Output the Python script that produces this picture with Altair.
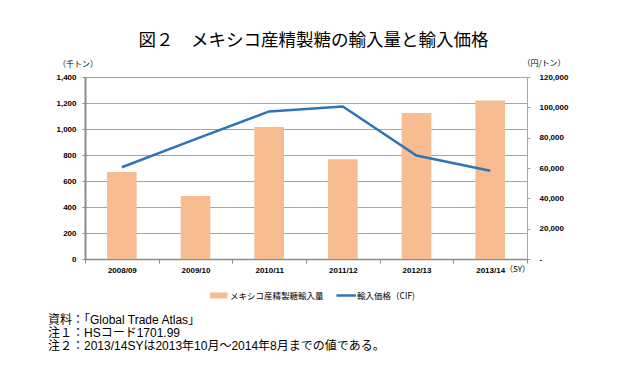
import altair as alt
import pandas as pd

years = ["2008/09", "2009/10", "2010/11", "2011/12", "2012/13", "2013/14"]
volume = [670, 484, 1015, 768, 1124, 1219]          # 千トン
price = [60500, 79000, 97300, 100600, 68200, 58200]  # 円/トン

title_text = "図２　メキシコ産精製糖の輸入量と輸入価格"
left_unit = "（千トン）"
right_unit = "（円/トン）"
x_unit = "（SY）"
legend_bar = "メキシコ産精製糖輸入量"
legend_line = "輸入価格（CIF)"
notes = [
    "資料：「Global Trade Atlas」",
    "注１：HSコード1701.99",
    "注２：2013/14SYは2013年10月～2014年8月までの値である。",
]

df = pd.DataFrame({"year": years, "volume": volume, "price": price})

JP = "Noto Sans CJK JP"
MIX = "Liberation Sans, Noto Sans CJK JP"
NUM = "Liberation Sans"
BAR = "#F7BC91"
LINE = "#2E75B6"
AXC = "#8C8C8C"

x = alt.X(
    "year:N", sort=years, title=None,
    scale=alt.Scale(paddingInner=0, paddingOuter=0),
    axis=alt.Axis(labelAngle=0, labelFont=NUM, labelFontSize=8, labelFontWeight="bold",
                  labelColor="#000", domainColor=AXC, domainWidth=1.5, tickColor=AXC,
                  tickSize=4, tickBand="extent", labelPadding=3, grid=False),
)

bars = alt.Chart(df).mark_bar(color=BAR, width=alt.RelativeBandSize(0.403)).encode(
    x=x,
    y=alt.Y("volume:Q", title=None, scale=alt.Scale(domain=[0, 1400], nice=False),
            axis=alt.Axis(values=list(range(0, 1401, 200)),
                          labelExpr="format(datum.value, ',d')", grid=True,
                          gridColor="#A6A6A6", gridWidth=1, labelFont=NUM, labelFontSize=8,
                          labelFontWeight="bold", labelColor="#000", domainColor=AXC,
                          domainWidth=2, tickColor=AXC, tickSize=3, labelPadding=6)),
)

line = alt.Chart(df).mark_line(color=LINE, strokeWidth=2.5).encode(
    x=x,
    y=alt.Y("price:Q", title=None, scale=alt.Scale(domain=[0, 120000], nice=False),
            axis=alt.Axis(orient="right", values=list(range(0, 120001, 20000)),
                          labelExpr="datum.value == 0 ? '-' : format(datum.value, ',d')",
                          grid=False, labelFont=NUM, labelFontSize=8, labelFontWeight="bold",
                          labelColor="#000", domainColor="#A6A6A6", domainWidth=1,
                          tickColor="#A6A6A6", tickSize=3, labelPadding=9)),
)

one = pd.DataFrame({"k": [0]})


def txt(s, xv, yv, size, align="left", font=JP, weight="normal", **kw):
    return alt.Chart(one).mark_text(text=s, align=align, baseline="middle", font=font,
                                    fontSize=size, fontWeight=weight, color="#000", **kw).encode(
        x=alt.value(xv), y=alt.value(yv))


layers = [
    txt(title_text, 228.5, -36.5, 17.5, align="center"),
    txt(left_unit, -7, -12, 8, align="center"),
    txt(right_unit, 459, -13, 8, align="center"),
    txt(x_unit, 420, 193, 8, align="left"),
    alt.Chart(one).mark_rect(color=BAR).encode(
        x=alt.value(125), x2=alt.value(142.5), y=alt.value(215.5), y2=alt.value(221.5)),
    txt(legend_bar, 145, 218.5, 8.5),
    alt.Chart(one).mark_rule(color=LINE, strokeWidth=2.5).encode(
        x=alt.value(251.5), x2=alt.value(271), y=alt.value(218.5)),
    txt(legend_line, 272, 218.5, 8.5),
    txt(notes, -37, 242.5, 12, font=MIX, lineHeight=13),
]

chart = alt.layer(bars, line, *layers).resolve_scale(y="independent").properties(
    width=442, height=182,
    autosize=alt.AutoSizeParams(type="none"),
    padding={"left": 77, "top": 69, "right": 97, "bottom": 102},
).configure_view(stroke=None).configure(background="white")

chart.save("out.html", embed_options={"renderer": "svg", "actions": False})
